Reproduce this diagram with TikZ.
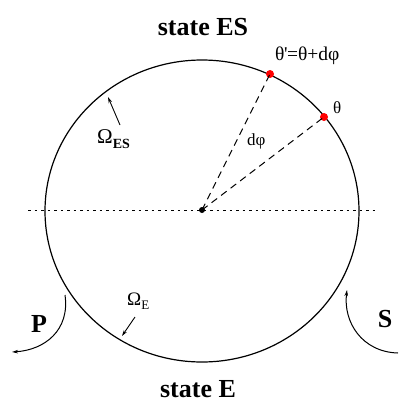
\documentclass[tikz,border=0pt]{standalone}
\usepackage{fontspec}
\setmainfont{Liberation Serif}
\usetikzlibrary{arrows.meta}
\begin{document}
\begin{tikzpicture}[x=1pt,y=-1pt,
  ring/.style={line width=1.2pt},
  radius line/.style={line width=1pt,dash pattern=on 7pt off 5pt},
  axis line/.style={line width=0.9pt,dash pattern=on 2.5pt off 4pt},
  pointer/.style={line width=0.9pt,-{Stealth[length=6pt,width=3.5pt]}},
  flow/.style={line width=1pt,-{Stealth[length=6pt,width=3.5pt]}},
  title/.style={font=\fontsize{26}{30}\selectfont\bfseries,inner sep=0pt},
  lbl/.style={font=\fontsize{17}{20}\selectfont,inner sep=0pt},
  reddot/.style={circle,fill=red,inner sep=0pt,minimum size=8pt},
]
\useasboundingbox (0,0) rectangle (399,402);
\coordinate (c) at (202,211);
\draw[ring] (c) ellipse [x radius=157pt, y radius=151pt];
\coordinate (axL) at (28,210);
\coordinate (axR) at (377,210);
\draw[axis line] (axL) -- (axR);
\node[reddot] (tp) at (270,74) {};
\node[reddot] (t) at (324,117) {};
\node[circle,fill=black,inner sep=0pt,minimum size=6pt] (o) at (202,210) {};
\draw[radius line] (o.center) -- (tp.center);
\draw[radius line] (o.center) -- (t.center);
\node[title,anchor=base] (es) at (203,35) {state ES};
\node[title,anchor=base] (e) at (198,397) {state E};
\node[lbl,anchor=base west,font=\fontsize{19.5}{22}\selectfont] (tpl) at (275,60) {θ\kern-0.5pt\textquotesingle\kern-0.5pt=θ+dφ};
\node[lbl,anchor=base west] (tl) at (333,113) {θ};
\node[lbl,anchor=base west] (dphi) at (247,145) {dφ};
\node[anchor=base west,inner sep=0pt] (oes) at (97,143) {\fontsize{21}{24}\selectfont Ω\raisebox{-5pt}{\fontsize{14}{16}\selectfont\bfseries ES}};
\node[anchor=base west,inner sep=0pt] (oe) at (127,305) {\fontsize{19}{22}\selectfont Ω\raisebox{-4pt}{\fontsize{13}{15}\selectfont E}};
\coordinate (oesA) at (120,125);
\coordinate (oesB) at (108,97);
\draw[pointer] (oesA) -- (oesB);
\coordinate (oeA) at (135,317);
\coordinate (oeB) at (122,336);
\draw[pointer] (oeA) -- (oeB);
\node[title,anchor=base] (p) at (39,332) {P};
\node[title,anchor=base] (s) at (385,327) {S};
\coordinate (pA) at (65,295);
\coordinate (pB) at (12,352);
\draw[flow] (pA) .. controls (70,330) and (45,350) .. (pB);
\coordinate (sA) at (398,353);
\coordinate (sB) at (347,290);
\draw[flow] (sA) .. controls (362,352) and (343,322) .. (sB);
\end{tikzpicture}
\end{document}
